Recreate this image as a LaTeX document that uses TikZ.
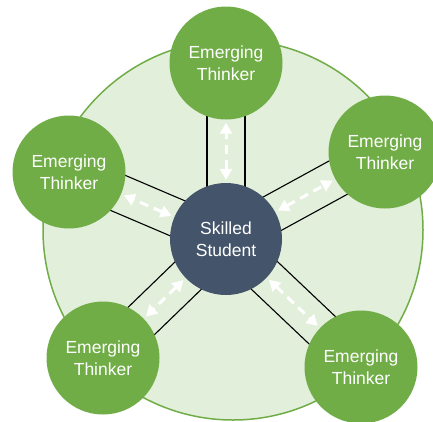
\documentclass[tikz,border=0pt]{standalone}
\usepackage{fontspec}
\setmainfont{Liberation Sans}
\usetikzlibrary{arrows.meta,calc}
\definecolor{thinkgreen}{HTML}{70AD47}
\definecolor{paleground}{HTML}{E2EFDA}
\definecolor{slateblue}{HTML}{44546A}
\tikzset{
	thinker/.style={circle,fill=thinkgreen,minimum size=113pt,inner sep=0pt,text=white,align=center,font=\fontsize{17.5}{21.5}\selectfont},
	student/.style={circle,fill=slateblue,minimum size=112pt,inner sep=0pt,text=white,align=center,font=\fontsize{17.5}{21.5}\selectfont},
	rail/.style={black,line width=1.1pt},
	link/.style={white,line width=3pt,dash pattern=on 9pt off 6pt,{Triangle[length=11pt,width=12pt]}-{Triangle[length=11pt,width=12pt]},shorten <=3pt,shorten >=3pt}
}
\begin{document}
\begin{tikzpicture}[x=1pt,y=-1pt]
		\useasboundingbox (0,0) rectangle (433,421);
		\draw[thinkgreen,fill=paleground,line width=1.5pt] (233,230) circle[radius=190pt];
		\coordinate (mid) at (226,239);
		\coordinate (top) at (226,63);
		\coordinate (upleft) at (69,172);
		\coordinate (upright) at (385,152);
		\coordinate (lowleft) at (103,358);
		\coordinate (lowright) at (361,367);
		% rails under the circles
		\draw[rail] ($(mid)!19pt!90:(top)$) -- ($(top)!19pt!-90:(mid)$);
		\draw[rail] ($(mid)!19pt!-90:(top)$) -- ($(top)!19pt!90:(mid)$);
		\draw[rail] ($(mid)!19pt!90:(upleft)$) -- ($(upleft)!19pt!-90:(mid)$);
		\draw[rail] ($(mid)!19pt!-90:(upleft)$) -- ($(upleft)!19pt!90:(mid)$);
		\draw[rail] ($(mid)!19pt!90:(upright)$) -- ($(upright)!19pt!-90:(mid)$);
		\draw[rail] ($(mid)!19pt!-90:(upright)$) -- ($(upright)!19pt!90:(mid)$);
		\draw[rail] ($(mid)!19pt!90:(lowleft)$) -- ($(lowleft)!19pt!-90:(mid)$);
		\draw[rail] ($(mid)!19pt!-90:(lowleft)$) -- ($(lowleft)!19pt!90:(mid)$);
		\draw[rail] ($(mid)!19pt!90:(lowright)$) -- ($(lowright)!19pt!-90:(mid)$);
		\draw[rail] ($(mid)!19pt!-90:(lowright)$) -- ($(lowright)!19pt!90:(mid)$);
		% circles
		\node[student] (skilled) at (mid) {Skilled\\Student};
		\node[thinker] (t1) at (top) {Emerging\\Thinker};
		\node[thinker] (t2) at (upleft) {Emerging\\Thinker};
		\node[thinker] (t3) at (upright) {Emerging\\Thinker};
		\node[thinker] (t4) at (lowleft) {Emerging\\Thinker};
		\node[thinker] (t5) at (lowright) {Emerging\\Thinker};
		% two-way arrows
		\draw[link] (skilled) -- (t1);
		\draw[link] (skilled) -- (t2);
		\draw[link] (skilled) -- (t3);
		\draw[link] (skilled) -- (t4);
		\draw[link] (skilled) -- (t5);
		\end{tikzpicture}
\end{document}
